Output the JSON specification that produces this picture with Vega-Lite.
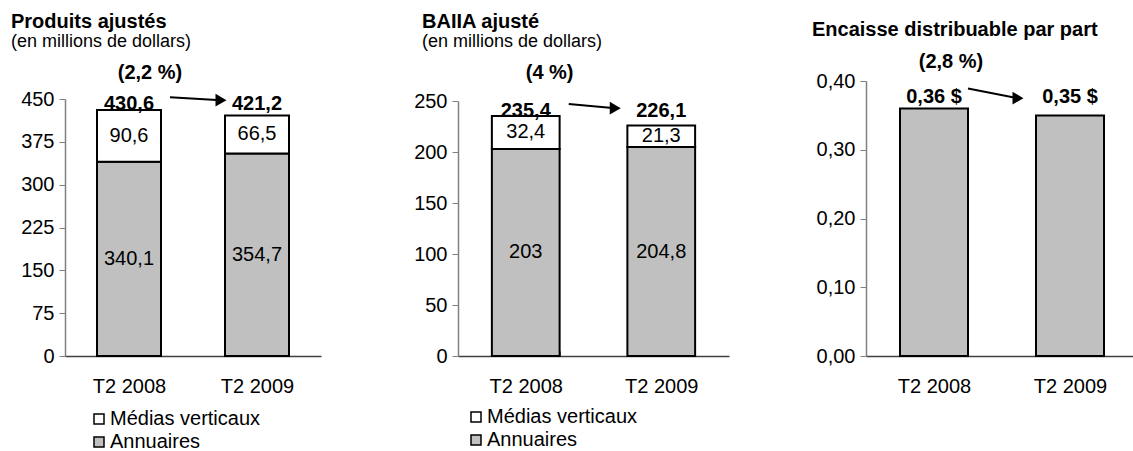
{
  "$schema": "https://vega.github.io/schema/vega-lite/v6.json",
  "padding": {"left": 11, "top": 11, "right": 0, "bottom": 0},
  "bounds": "flush",
  "spacing": 137,
  "datasets": {
    "produits": [
      {"periode": "T2 2008", "segment": "Annuaires", "valeur": 340.1},
      {"periode": "T2 2008", "segment": "Médias verticaux", "valeur": 90.6},
      {"periode": "T2 2009", "segment": "Annuaires", "valeur": 354.7},
      {"periode": "T2 2009", "segment": "Médias verticaux", "valeur": 66.5}
    ],
    "produitsTotaux": [
      {"periode": "T2 2008", "total": 430.6},
      {"periode": "T2 2009", "total": 421.2}
    ],
    "produitsVar": [{"de": "T2 2008", "a": "T2 2009", "variation": "(2,2 %)"}],
    "baiia": [
      {"periode": "T2 2008", "segment": "Annuaires", "valeur": 203},
      {"periode": "T2 2008", "segment": "Médias verticaux", "valeur": 32.4},
      {"periode": "T2 2009", "segment": "Annuaires", "valeur": 204.8},
      {"periode": "T2 2009", "segment": "Médias verticaux", "valeur": 21.3}
    ],
    "baiiaTotaux": [
      {"periode": "T2 2008", "total": 235.4},
      {"periode": "T2 2009", "total": 226.1}
    ],
    "baiiaVar": [{"de": "T2 2008", "a": "T2 2009", "variation": "(4 %)"}],
    "encaisse": [
      {"periode": "T2 2008", "valeur": 0.36},
      {"periode": "T2 2009", "valeur": 0.35}
    ],
    "encaisseVar": [{"de": "T2 2008", "a": "T2 2009", "variation": "(2,8 %)"}]
  },
  "resolve": {"scale": {"x": "independent", "y": "independent", "color": "independent"}},
  "hconcat": [
    {
      "width": 256,
      "height": 275,
      "title": {"text": "Produits ajustés", "subtitle": "(en millions de dollars)", "dx": -54, "offset": 12, "subtitlePadding": 1},
      "layer": [
        {
          "data": {"name": "produits"},
          "mark": {"type": "bar", "stroke": "black", "strokeWidth": 2},
          "encoding": {
            "x": {"field": "periode", "type": "nominal", "title": null, "scale": {"paddingInner": 0.5, "paddingOuter": 0.25}},
            "y": {"field": "valeur", "type": "quantitative", "stack": "zero", "title": null,
                  "scale": {"domain": [0, 450], "range": [275, 18], "nice": false, "zero": true},
                  "axis": {"values": [0, 75, 150, 225, 300, 375, 450], "format": "d"}},
            "color": {"field": "segment", "type": "nominal",
                      "scale": {"domain": ["Médias verticaux", "Annuaires"], "range": ["white", "#c0c0c0"]},
                      "legend": {"orient": "none", "legendX": 24, "legendY": 328, "title": null}},
            "order": {"field": "segment", "sort": "ascending"}
          }
        },
        {
          "data": {"name": "produits"},
          "mark": {"type": "text", "fontSize": 20, "color": "black"},
          "encoding": {
            "x": {"field": "periode", "type": "nominal"},
            "y": {"field": "valeur", "type": "quantitative", "stack": "zero", "bandPosition": 0.5},
            "detail": {"field": "segment"},
            "order": {"field": "segment", "sort": "ascending"},
            "text": {"field": "valeur", "type": "quantitative", "format": ".1~f"}
          }
        },
        {
          "data": {"name": "produitsTotaux"},
          "mark": {"type": "text", "fontSize": 20, "fontWeight": "bold", "color": "black"},
          "encoding": {
            "x": {"field": "periode", "type": "nominal"},
            "y": {"datum": 442},
            "text": {"field": "total", "type": "quantitative", "format": ".1f"}
          }
        },
        {
          "data": {"name": "produitsVar"},
          "mark": {"type": "rule", "strokeWidth": 2, "color": "black", "xOffset": 41, "x2Offset": -36},
          "encoding": {
            "x": {"field": "de", "type": "nominal"},
            "x2": {"field": "a"},
            "y": {"datum": 453},
            "y2": {"datum": 448}
          }
        },
        {
          "data": {"name": "produitsVar"},
          "mark": {"type": "point", "shape": "triangle-right", "filled": true, "color": "black", "opacity": 1, "size": 160, "xOffset": -36},
          "encoding": {
            "x": {"field": "a", "type": "nominal"},
            "y": {"datum": 448}
          }
        },
        {
          "data": {"name": "produitsVar"},
          "mark": {"type": "text", "fontSize": 20, "fontWeight": "bold", "color": "black", "xOffset": -11},
          "encoding": {
            "x": {"field": "de", "type": "nominal", "bandPosition": 1},
            "y": {"datum": 496},
            "text": {"field": "variation"}
          }
        }
      ]
    },
    {
      "width": 271,
      "height": 275,
      "title": {"text": "BAIIA ajusté", "subtitle": "(en millions de dollars)", "dx": -36, "offset": 12, "subtitlePadding": 1},
      "layer": [
        {
          "data": {"name": "baiia"},
          "mark": {"type": "bar", "stroke": "black", "strokeWidth": 2},
          "encoding": {
            "x": {"field": "periode", "type": "nominal", "title": null, "scale": {"paddingInner": 0.5, "paddingOuter": 0.25}},
            "y": {"field": "valeur", "type": "quantitative", "stack": "zero", "title": null,
                  "scale": {"domain": [0, 250], "range": [275, 20], "nice": false, "zero": true},
                  "axis": {"values": [0, 50, 100, 150, 200, 250], "format": "d"}},
            "color": {"field": "segment", "type": "nominal",
                      "scale": {"domain": ["Médias verticaux", "Annuaires"], "range": ["white", "#c0c0c0"]},
                      "legend": {"orient": "none", "legendX": 8, "legendY": 326, "title": null}},
            "order": {"field": "segment", "sort": "ascending"}
          }
        },
        {
          "data": {"name": "baiia"},
          "mark": {"type": "text", "fontSize": 20, "color": "black"},
          "encoding": {
            "x": {"field": "periode", "type": "nominal"},
            "y": {"field": "valeur", "type": "quantitative", "stack": "zero", "bandPosition": 0.5},
            "detail": {"field": "segment"},
            "order": {"field": "segment", "sort": "ascending"},
            "text": {"field": "valeur", "type": "quantitative", "format": ".1~f"}
          }
        },
        {
          "data": {"name": "baiiaTotaux"},
          "mark": {"type": "text", "fontSize": 20, "fontWeight": "bold", "color": "black"},
          "encoding": {
            "x": {"field": "periode", "type": "nominal"},
            "y": {"datum": 240},
            "text": {"field": "total", "type": "quantitative", "format": ".1f"}
          }
        },
        {
          "data": {"name": "baiiaVar"},
          "mark": {"type": "rule", "strokeWidth": 2, "color": "black", "xOffset": 43, "x2Offset": -46},
          "encoding": {
            "x": {"field": "de", "type": "nominal"},
            "x2": {"field": "a"},
            "y": {"datum": 247},
            "y2": {"datum": 243}
          }
        },
        {
          "data": {"name": "baiiaVar"},
          "mark": {"type": "point", "shape": "triangle-right", "filled": true, "color": "black", "opacity": 1, "size": 160, "xOffset": -46},
          "encoding": {
            "x": {"field": "a", "type": "nominal"},
            "y": {"datum": 243}
          }
        },
        {
          "data": {"name": "baiiaVar"},
          "mark": {"type": "text", "fontSize": 20, "fontWeight": "bold", "color": "black", "xOffset": -10},
          "encoding": {
            "x": {"field": "de", "type": "nominal", "bandPosition": 1},
            "y": {"datum": 277.5},
            "text": {"field": "variation"}
          }
        }
      ]
    },
    {
      "width": 272,
      "height": 275,
      "title": {"text": "Encaisse distribuable par part", "dx": -54, "offset": 12},
      "layer": [
        {
          "data": {"name": "encaisse"},
          "mark": {"type": "bar", "stroke": "black", "strokeWidth": 2, "fill": "#c0c0c0"},
          "encoding": {
            "x": {"field": "periode", "type": "nominal", "title": null, "scale": {"paddingInner": 0.5, "paddingOuter": 0.25}},
            "y": {"field": "valeur", "type": "quantitative", "title": null,
                  "scale": {"domain": [0, 0.4], "range": [275, 0], "nice": false, "zero": true},
                  "axis": {"values": [0, 0.1, 0.2, 0.3, 0.4], "format": ".2f"}}
          }
        },
        {
          "data": {"name": "encaisse"},
          "mark": {"type": "text", "fontSize": 20, "fontWeight": "bold", "color": "black"},
          "encoding": {
            "x": {"field": "periode", "type": "nominal"},
            "y": {"datum": 0.377},
            "text": {"field": "valeur", "type": "quantitative", "format": "$.2f"}
          }
        },
        {
          "data": {"name": "encaisseVar"},
          "mark": {"type": "rule", "strokeWidth": 2, "color": "black", "xOffset": 34, "x2Offset": -52},
          "encoding": {
            "x": {"field": "de", "type": "nominal"},
            "x2": {"field": "a"},
            "y": {"datum": 0.389},
            "y2": {"datum": 0.375}
          }
        },
        {
          "data": {"name": "encaisseVar"},
          "mark": {"type": "point", "shape": "triangle-right", "filled": true, "color": "black", "opacity": 1, "size": 160, "xOffset": -52},
          "encoding": {
            "x": {"field": "a", "type": "nominal"},
            "y": {"datum": 0.375}
          }
        },
        {
          "data": {"name": "encaisseVar"},
          "mark": {"type": "text", "fontSize": 20, "fontWeight": "bold", "color": "black", "xOffset": -17},
          "encoding": {
            "x": {"field": "de", "type": "nominal", "bandPosition": 1},
            "y": {"datum": 0.4274},
            "text": {"field": "variation"}
          }
        }
      ]
    }
  ],
  "config": {
    "font": "Liberation Sans",
    "locale": {"number": {"decimal": ",", "thousands": " ", "grouping": [3], "currency": ["", " $"]}},
    "view": {"stroke": null},
    "background": "white",
    "axis": {"labelFont": "Liberation Sans", "labelFontSize": 20, "labelColor": "black", "grid": false},
    "axisY": {"domainColor": "#808080", "tickColor": "#808080", "tickSize": 6, "labelPadding": 5, "domainWidth": 1.5},
    "axisX": {"domainColor": "#404040", "tickColor": "#606060", "labelAngle": 0, "tickBand": "extent", "tickSize": -5, "labelPadding": 25, "domainWidth": 1.5},
    "legend": {"labelFont": "Liberation Sans", "labelFontSize": 20, "labelColor": "black", "symbolType": "square", "symbolSize": 100, "symbolStrokeColor": "black", "symbolStrokeWidth": 1.5, "rowPadding": 3, "labelOffset": 1},
    "title": {"anchor": "start", "frame": "group", "font": "Liberation Sans", "fontSize": 20, "fontWeight": "bold", "color": "black", "subtitleFont": "Liberation Sans", "subtitleFontSize": 18, "subtitleColor": "black", "subtitlePadding": 0}
  }
}
